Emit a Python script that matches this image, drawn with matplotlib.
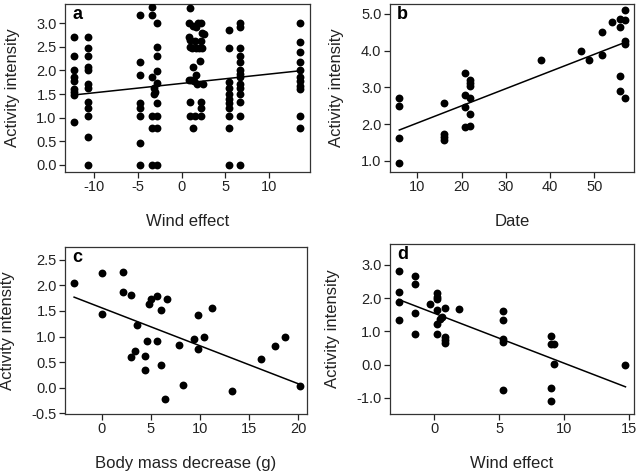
import numpy as np
import matplotlib
matplotlib.use("Agg")
import matplotlib.pyplot as plt

plt.rcParams['font.family'] = ['Liberation Sans', 'DejaVu Sans']

# panel a: wind effect vs activity intensity
a_x = ([-12.3] * 9 + [-10.7] * 12 + [-4.8] * 8
       + [-3.4, -3.4, -2.8, -2.8, -2.8, -2.8, -3.4, -2.8, -3.2, -3.0, -3.2, -2.8, -3.4, -2.8, -3.4, -2.8, -3.4, -2.8]
       + [0.9, 0.8, 1.3, 1.9, 2.2, 1.6, 2.3, 2.6, 0.8, 1.0, 1.5, 2.2, 0.9, 1.2, 1.6, 2.0, 2.3, 2.1, 1.3, 1.6,
          0.8, 1.1, 1.4, 1.8, 2.4, 0.9, 2.2, 2.2, 0.9, 1.5, 2.2, 1.3]
       + [5.4] * 11 + [6.6] * 14 + [13.5] * 11)
a_y = ([2.7, 2.3, 2.0, 1.85, 1.78, 1.6, 1.55, 1.48, 0.9]
       + [2.7, 2.48, 2.3, 2.08, 2.0, 1.72, 1.62, 1.33, 1.2, 1.04, 0.6, 0.0]
       + [3.17, 2.17, 1.9, 1.3, 1.2, 1.04, 0.47, 0.0]
       + [3.34, 3.18, 3.0, 2.49, 2.31, 1.98, 1.86, 1.74, 1.63, 1.54, 1.49, 1.32, 1.04, 1.04, 0.79, 0.79, 0.0, 0.0]
       + [3.32, 3.0, 2.95, 3.0, 3.0, 2.92, 2.79, 2.78, 2.7, 2.65, 2.62, 2.62, 2.5, 2.48, 2.48, 2.48, 2.48, 2.19, 2.08, 1.9,
          1.8, 1.8, 1.78, 1.72, 1.72, 1.34, 1.34, 1.2, 1.04, 1.04, 1.04, 0.79]
       + [2.85, 2.48, 1.75, 1.62, 1.5, 1.4, 1.3, 1.2, 1.04, 0.78, 0.0]
       + [3.0, 2.92, 2.48, 2.3, 2.17, 2.0, 1.92, 1.85, 1.72, 1.62, 1.5, 1.33, 1.04, 0.0]
       + [3.0, 2.6, 2.4, 2.17, 2.0, 1.85, 1.78, 1.68, 1.6, 1.04, 0.78])
a_line_x = [-12.3, 13.4]
a_line_y = [1.48, 1.99]

# panel b: date vs activity intensity
b_x = [5.9, 5.9, 5.9, 5.9, 15.9, 15.9, 15.9, 15.9, 20.8, 20.8, 20.8, 20.8, 21.9, 21.9, 21.9, 21.9, 21.9, 21.9,
       37.9, 46.9, 48.8, 51.8, 51.8, 53.9, 55.8, 55.8, 55.8, 55.8, 56.9, 56.9, 56.9, 56.9, 56.9]
b_y = [2.72, 2.49, 1.61, 0.95, 2.58, 1.73, 1.65, 1.56, 3.4, 2.78, 2.47, 1.91, 3.2, 3.11, 3.04, 2.72, 2.28, 1.96,
       3.75, 3.99, 3.75, 4.5, 3.88, 4.77, 4.86, 4.64, 3.31, 2.9, 5.09, 4.84, 4.25, 4.17, 2.72]
b_line_x = [5.9, 56.9]
b_line_y = [1.84, 4.22]

# panel c: body mass decrease vs activity intensity
c_x = [-2.82, 0.0, 0.0, 2.21, 2.21, 2.99, 2.99, 3.4, 3.6, 4.42, 4.42, 4.63, 4.83, 5.0, 5.65, 5.65, 6.02, 6.02,
       6.43, 6.63, 7.82, 8.23, 9.42, 9.83, 9.83, 10.44, 11.22, 13.27, 16.26, 17.62, 18.64, 20.24]
c_y = [2.05, 2.24, 1.44, 2.27, 1.88, 1.82, 0.6, 0.71, 1.22, 0.61, 0.34, 0.91, 1.64, 1.74, 0.91, 1.8, 1.51, 0.44,
       -0.22, 1.73, 0.84, 0.06, 0.96, 1.43, 0.76, 1.0, 1.56, -0.06, 0.56, 0.82, 0.99, 0.03]
c_line_x = [-2.82, 20.24]
c_line_y = [1.77, 0.06]

# panel d: wind effect vs activity intensity
d_x = [-2.75, -2.75, -2.75, -2.75, -1.49, -1.49, -1.49, -1.49, -0.33, 0.18, 0.18, 0.18, 0.18, 0.18, 0.18,
       0.44, 0.57, 0.85, 0.85, 0.85, 0.85, 1.93, 5.3, 5.3, 5.3, 5.3, 5.3, 9.0, 9.0, 9.25, 9.0, 9.0, 9.25, 14.73]
d_y = [2.82, 2.2, 1.89, 1.33, 2.67, 2.44, 1.56, 0.91, 1.81, 2.14, 2.04, 1.98, 1.63, 1.23, 0.91,
       1.38, 1.43, 1.69, 0.83, 0.73, 0.66, 1.66, 1.61, 1.34, 0.78, 0.69, -0.78, 0.86, 0.63, 0.63, -0.7, -1.1, 0.03, 0.0]
d_line_x = [-2.75, 14.73]
d_line_y = [1.96, -0.67]

panels = [
    ("a", a_x, a_y, a_line_x, a_line_y, "Wind effect", (-13.3, 14.65), (-0.15, 3.41),
     [-10, -5, 0, 5, 10], np.arange(0, 3.01, 0.5), [0.102, 0.638, 0.384, 0.354]),
    ("b", b_x, b_y, b_line_x, b_line_y, "Date", (3.75, 59.0), (0.7, 5.27),
     [10, 20, 30, 40, 50], [1, 2, 3, 4, 5], [0.611, 0.638, 0.383, 0.354]),
    ("c", c_x, c_y, c_line_x, c_line_y, "Body mass decrease (g)", (-3.74, 20.9), (-0.51, 2.76),
     [0, 5, 10, 15, 20], np.arange(-0.5, 2.51, 0.5), [0.102, 0.129, 0.379, 0.352]),
    ("d", d_x, d_y, d_line_x, d_line_y, "Wind effect", (-3.42, 15.4), (-1.48, 3.64),
     [0, 5, 10, 15], [-1, 0, 1, 2, 3], [0.611, 0.129, 0.383, 0.358]),
]

fig = plt.figure(figsize=(6.38, 4.75), dpi=100)
for lab, x, y, lx, ly, xlab, xlim, ylim, xt, yt, pos in panels:
    ax = fig.add_axes(pos)
    ax.scatter(x, y, s=32, color="black", zorder=3, linewidths=0)
    ax.plot(lx, ly, color="black", lw=1.1, zorder=2)
    ax.set_xlim(xlim)
    ax.set_ylim(ylim)
    ax.set_xticks(xt)
    ax.set_yticks(yt)
    ax.set_yticklabels(["%.1f" % v for v in yt])
    ax.set_xticklabels([str(v) for v in xt])
    ax.tick_params(direction="out", length=4, width=0.9, colors="#222222", labelsize=10.5, pad=2)
    for sp in ax.spines.values():
        sp.set_color("#333333")
        sp.set_linewidth(0.9)
    ax.set_xlabel(xlab, fontsize=12, labelpad=14, color="#222222")
    ax.set_ylabel("Activity intensity", fontsize=12, labelpad=12, color="#222222")
    ax.text(0.03, 0.985, lab, transform=ax.transAxes, fontsize=13, fontweight="bold",
            va="top", ha="left")

fig.savefig("out.png", dpi=100)
